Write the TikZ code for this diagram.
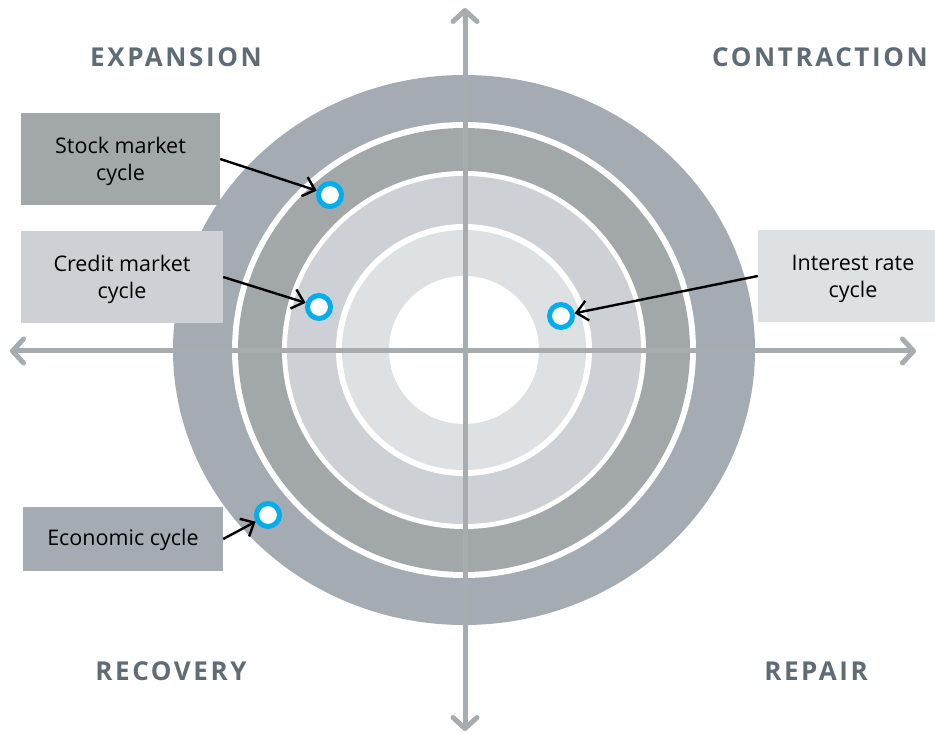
\documentclass[tikz,border=0pt]{standalone}
\usepackage{fontspec}
\setmainfont{Open Sans}
\newfontfamily\headfont[LetterSpace=10]{Open Sans}
\usetikzlibrary{arrows.meta}
\definecolor{ringouter}{HTML}{A4ABB3}
\definecolor{ringdark}{HTML}{A2A8AA}
\definecolor{ringlight}{HTML}{CDD0D4}
\definecolor{ringpale}{HTML}{DEE1E4}
\definecolor{axisgray}{HTML}{A6ACAF}
\definecolor{headgray}{HTML}{5F6B75}
\definecolor{dotblue}{HTML}{00AEEF}

\begin{document}
\begin{tikzpicture}[x=1pt,y=-1pt,
  phase/.style={text=headgray,font=\headfont\bfseries\fontsize{26}{30}\selectfont},
  cyclebox/.style={inner sep=0pt,align=center,font=\fontsize{21.5}{27}\selectfont},
  marker/.style={circle,draw=dotblue,line width=5pt,fill=white,minimum size=23pt,inner sep=0pt},
  pointer/.style={black,line width=2.4pt,-{Straight Barb[length=11pt,width=20pt]}},
  axis/.style={axisgray,line width=5pt,{Straight Barb[length=11pt,width=24pt,round]}-{Straight Barb[length=11pt,width=24pt,round]}}]
\useasboundingbox (0,0) rectangle (935,735);

% rings
\fill [ringouter] (464,350) ellipse [x radius=291, y radius=275];
\fill [white] (464,350) ellipse [x radius=232, y radius=228];
\fill [ringdark] (464,350) ellipse [x radius=226, y radius=222];
\fill [white] (464,350) ellipse [x radius=182, y radius=179];
\fill [ringlight] (464,350) ellipse [x radius=177, y radius=174];
\fill [white] (464,350) ellipse [x radius=128, y radius=126];
\fill [ringpale] (464,350) ellipse [x radius=122, y radius=120];
\fill [white] (464,350) ellipse [x radius=75, y radius=74];

\draw [axis] (10,351) -- (916,351);
\draw [axis] (465,8) -- (465,731);

\node [phase] (expansion) at (176,57) {EXPANSION};
\node [phase] (contraction) at (820,57) {CONTRACTION};
\node [phase] (recovery) at (171,671) {RECOVERY};
\node [phase] (repair) at (816,671) {REPAIR};

\node [cyclebox, fill=ringdark, minimum width=199pt, minimum height=92pt] (stockbox) at (120.5,159) {\\[-6pt]Stock market\\cycle};
\node [cyclebox, fill=ringlight, minimum width=202pt, minimum height=92pt] (creditbox) at (122,277) {\\[-6pt]Credit market\\cycle};
\node [cyclebox, fill=ringpale, minimum width=190pt, minimum height=92pt] (ratebox) at (853,276) {\\[-6pt]Interest rate\\cycle};
\node [cyclebox, fill=ringouter, minimum width=200pt, minimum height=64pt] (econbox) at (123,539) {\\[-8pt]Economic cycle};

\node [marker] (stockdot) at (330,195) {};
\node [marker] (creditdot) at (319,307) {};
\node [marker] (ratedot) at (561,316) {};
\node [marker] (econdot) at (268,515) {};

\draw [pointer] (stockbox.east) -- (stockdot);
\draw [pointer] (creditbox.east) -- (creditdot);
\draw [pointer] (ratebox.west) -- (ratedot);
\draw [pointer] (econbox.east) -- (econdot);

\end{tikzpicture}
\end{document}
